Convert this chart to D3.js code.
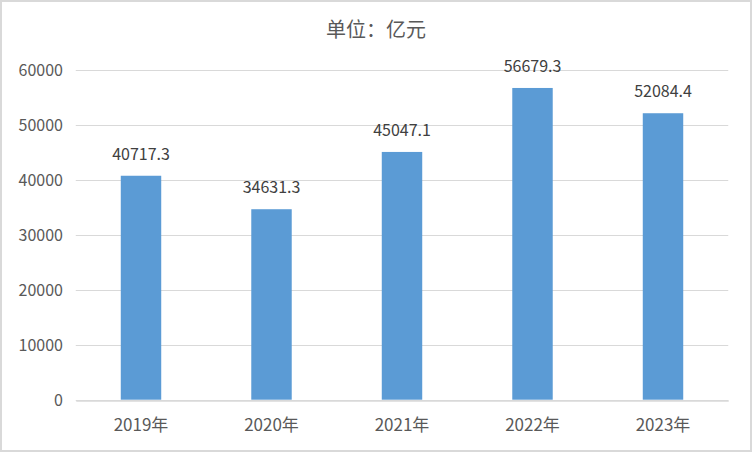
<!DOCTYPE html>
<html>
<head>
<meta charset="utf-8">
<script src="https://cdn.jsdelivr.net/npm/d3@7"></script>
<style>
  html, body { margin: 0; padding: 0; background: #fff; }
  svg { display: block; }
</style>
</head>
<body>
<script>
const categories = ["2019年", "2020年", "2021年", "2022年", "2023年"];
const values = [40717.3, 34631.3, 45047.1, 56679.3, 52084.4];
const yTicks = [0, 10000, 20000, 30000, 40000, 50000, 60000];
const title = "单位：亿元";

const W = 752, H = 452;
const svg = d3.select("body").append("svg").attr("width", W).attr("height", H);

svg.append("rect").attr("x", 1).attr("y", 1).attr("width", W - 2).attr("height", H - 2)
  .attr("fill", "#fff").attr("stroke", "#d9d9d9").attr("stroke-width", 2);

const x = d3.scaleBand().domain(categories).range([75.75, 728.25]).paddingInner(0.69).paddingOuter(0.345);
const y = d3.scaleLinear().domain([0, 60000]).range([399.7, 69.7]);

const font = "'Noto Sans CJK SC', 'Noto Sans', sans-serif";

// gridlines
svg.append("g").selectAll("line").data(yTicks).join("line")
  .attr("x1", 75.75).attr("x2", 728.25)
  .attr("y1", d => Math.round(y(d)) + 0.5).attr("y2", d => Math.round(y(d)) + 0.5)
  .attr("stroke", "#d9d9d9").attr("stroke-width", 1.2);

// y axis labels
const yAxis = d3.axisLeft(y).tickValues(yTicks).tickSize(0).tickPadding(0).tickFormat(d3.format("d"));
const gy = svg.append("g").attr("transform", "translate(63,0)").call(yAxis);
gy.select(".domain").remove();
gy.selectAll("text").attr("font-family", font).attr("font-size", 16).attr("fill", "#595959").attr("dy", "0.36em");

// bars
svg.append("g").selectAll("rect").data(values).join("rect")
  .attr("x", (d, i) => x(categories[i]))
  .attr("y", d => y(d))
  .attr("width", x.bandwidth())
  .attr("height", d => y(0) - y(d))
  .attr("fill", "#5b9bd5");

// x axis
const xAxis = d3.axisBottom(x).tickSize(0).tickPadding(0);
const gx = svg.append("g").attr("transform", `translate(0,${Math.round(y(0)) + 0.5})`).call(xAxis);
gx.select(".domain").attr("stroke", "#d9d9d9").attr("stroke-width", 1.5);
gx.selectAll("text").attr("font-family", font).attr("font-size", 17).attr("fill", "#595959")
  .attr("dy", null).attr("y", 30);

// value labels
svg.append("g").selectAll("text").data(values).join("text")
  .attr("x", (d, i) => x(categories[i]) + x.bandwidth() / 2)
  .attr("y", d => y(d) - 16)
  .attr("text-anchor", "middle")
  .attr("font-family", font).attr("font-size", 16).attr("fill", "#404040")
  .text(d => d3.format(".1f")(d));

// title
svg.append("text").attr("x", 376).attr("y", 37).attr("text-anchor", "middle")
  .attr("font-family", font).attr("font-size", 20).attr("fill", "#595959")
  .text(title);
</script>
</body>
</html>
